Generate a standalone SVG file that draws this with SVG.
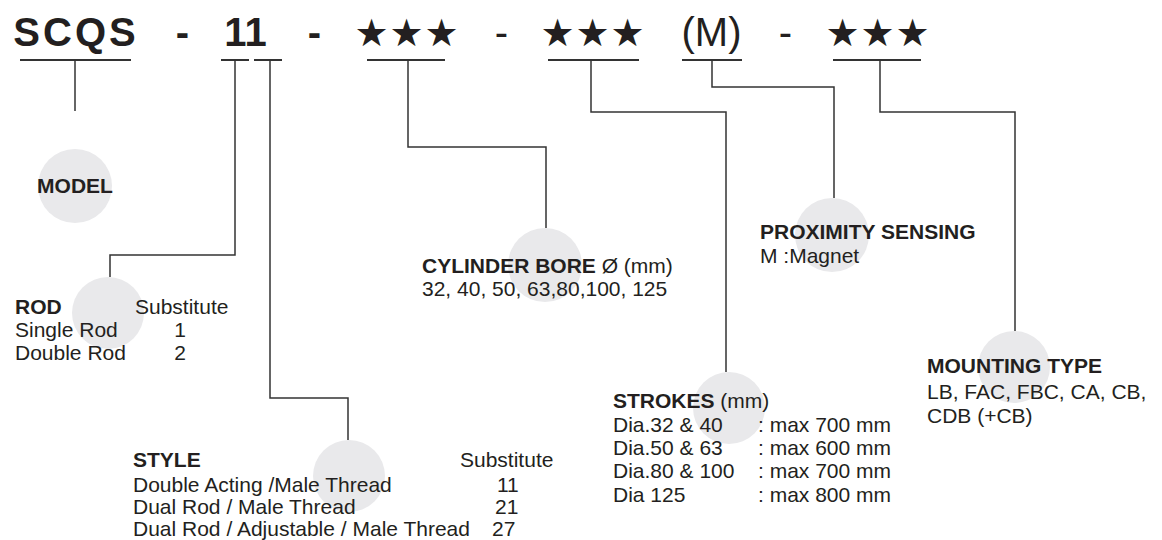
<svg xmlns="http://www.w3.org/2000/svg" width="1162" height="540" viewBox="0 0 1162 540">
<style>
.bg{fill:#ffffff}
.dot{fill:#e9e9eb}
.t{font-family:"Liberation Sans",Arial,sans-serif;font-size:21px;fill:#231f20}
.b{font-weight:bold}
.hd{font-family:"Liberation Sans",Arial,sans-serif;font-size:40px;fill:#231f20;text-anchor:middle}
.star{font-family:"DejaVu Sans",sans-serif;font-size:38px;fill:#231f20;text-anchor:middle;letter-spacing:1px}
.ul{stroke:#333333;stroke-width:2;fill:none}
.cn{stroke:#333333;stroke-width:1.5;fill:none}
</style>
<rect class="bg" x="0" y="0" width="1162" height="540"/>
<g id="header">
<text class="hd b" x="76" y="46" style="letter-spacing:3px">SCQS</text>
<text class="hd b" x="182.5" y="46">-</text>
<text class="hd b" x="245.5" y="46">11</text>
<text class="hd b" x="314.5" y="46">-</text>
<text class="star" x="407" y="46">★★★</text>
<text class="hd" x="501.5" y="46">-</text>
<text class="star" x="593" y="46">★★★</text>
<text class="hd" x="711.5" y="46">(M)</text>
<text class="hd" x="785.5" y="46">-</text>
<text class="star" x="878" y="46">★★★</text>
</g>
<g id="connectors">
<line class="ul" x1="20" y1="60" x2="131" y2="60"/>
<line class="ul" x1="221" y1="60" x2="249" y2="60"/>
<line class="ul" x1="254" y1="60" x2="282" y2="60"/>
<line class="ul" x1="367" y1="60" x2="445" y2="60"/>
<line class="ul" x1="548" y1="60" x2="639" y2="60"/>
<line class="ul" x1="682" y1="60" x2="742" y2="60"/>
<line class="ul" x1="833" y1="60" x2="921" y2="60"/>
<path class="cn" d="M75 60 V111"/>
<path class="cn" d="M235 60 V255 H110 V277"/>
<path class="cn" d="M270 60 V398 H348 V440"/>
<path class="cn" d="M408 60 V147 H546 V228"/>
<path class="cn" d="M591 60 V112 H726 V372"/>
<path class="cn" d="M712 60 V87 H834 V198"/>
<path class="cn" d="M880 60 V112 H1015 V331"/>
</g>
<g id="model">
<circle class="dot" cx="75" cy="186" r="37"/>
<text class="t b" x="75" y="193" text-anchor="middle">MODEL</text>
</g>
<g id="rod">
<circle class="dot" cx="108" cy="313" r="36"/>
<text class="t b" x="15" y="314">ROD</text>
<text class="t" x="135" y="314">Substitute</text>
<text class="t" x="15" y="337">Single Rod</text>
<text class="t" x="180" y="337" text-anchor="middle">1</text>
<text class="t" x="15" y="360">Double Rod</text>
<text class="t" x="180" y="360" text-anchor="middle">2</text>
</g>
<g id="style">
<circle class="dot" cx="349" cy="476" r="36"/>
<text class="t b" x="133" y="467">STYLE</text>
<text class="t" x="460" y="467">Substitute</text>
<text class="t" x="133" y="492">Double Acting /Male Thread</text>
<text class="t" x="497" y="492">11</text>
<text class="t" x="133" y="514">Dual Rod / Male Thread</text>
<text class="t" x="495" y="514">21</text>
<text class="t" x="133" y="536">Dual Rod / Adjustable / Male Thread</text>
<text class="t" x="492" y="536">27</text>
</g>
<g id="bore">
<circle class="dot" cx="545" cy="265" r="37"/>
<text class="t" x="422" y="273"><tspan class="b">CYLINDER BORE</tspan> Ø (mm)</text>
<text class="t" x="422" y="296">32, 40, 50, 63,80,100, 125</text>
</g>
<g id="strokes">
<circle class="dot" cx="729" cy="408" r="36"/>
<text class="t" x="613" y="408"><tspan class="b">STROKES</tspan> (mm)</text>
<text class="t" x="613" y="432">Dia.32 &amp; 40</text>
<text class="t" x="758" y="432">: max 700 mm</text>
<text class="t" x="613" y="455">Dia.50 &amp; 63</text>
<text class="t" x="758" y="455">: max 600 mm</text>
<text class="t" x="613" y="478">Dia.80 &amp; 100</text>
<text class="t" x="758" y="478">: max 700 mm</text>
<text class="t" x="613" y="502">Dia 125</text>
<text class="t" x="758" y="502">: max 800 mm</text>
</g>
<g id="proximity">
<circle class="dot" cx="832" cy="235" r="37"/>
<text class="t b" x="760" y="239">PROXIMITY SENSING</text>
<text class="t" x="760" y="263">M :Magnet</text>
</g>
<g id="mounting">
<circle class="dot" cx="1014" cy="367" r="36"/>
<text class="t b" x="927" y="373">MOUNTING TYPE</text>
<text class="t" x="927" y="399">LB, FAC, FBC, CA, CB,</text>
<text class="t" x="927" y="423">CDB (+CB)</text>
</g>
</svg>
